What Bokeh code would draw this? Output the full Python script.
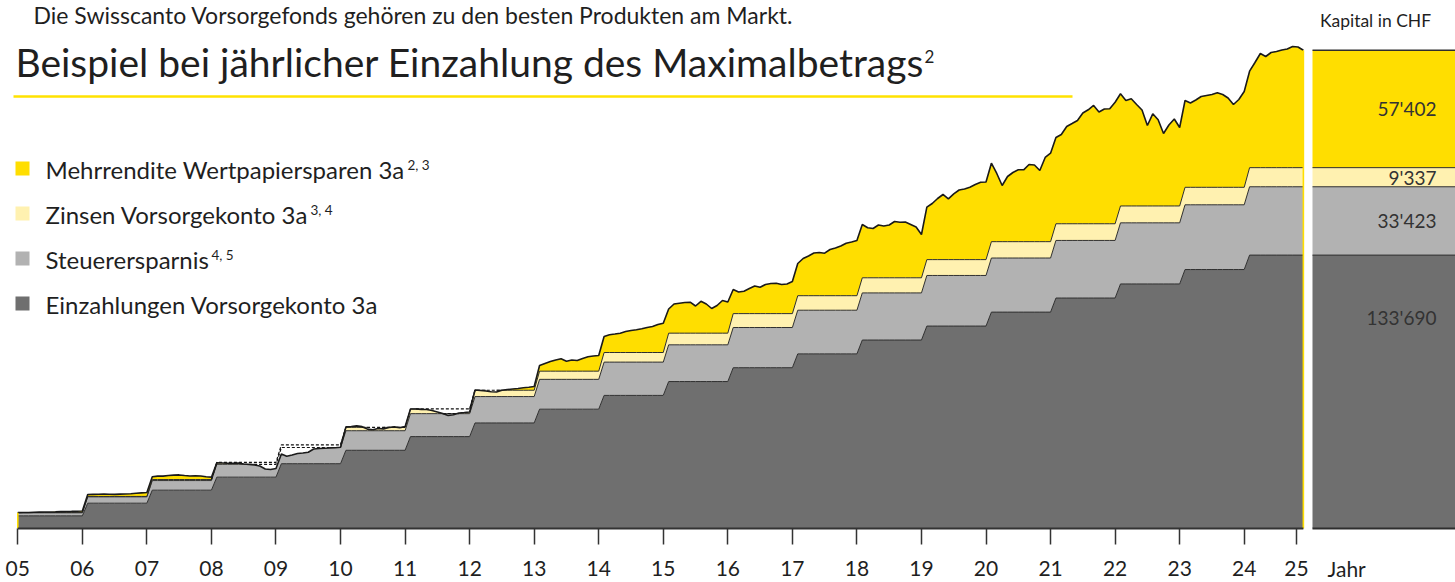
import numpy as np
from bokeh.plotting import figure
from bokeh.models import Range1d, FixedTicker, Label
from bokeh.embed import file_html
from bokeh.resources import INLINE

# ---------------- data ----------------
jahre = list(range(2005, 2025))
einzahlungen = [6192, 6192, 6365, 6365, 6566, 6566, 6682, 6682, 6739, 6739,
                6768, 6768, 6768, 6768, 6826, 6826, 6883, 6883, 7056, 7056]
steuerersparnis = [1548, 1548, 1591, 1591, 1642, 1642, 1671, 1670, 1685, 1685,
                   1692, 1692, 1692, 1692, 1707, 1706, 1721, 1720, 1764, 1764]
zinsen = [0, 200, 300, 400, 400, 350, 650, 800, 900, 700,
          1000, 1100, 300, 300, 350, 250, 150, 100, 300, 787]

# total value with securities savings, start value + month-end values 01.2005 - 11.2024
kapital_wertschriften = [
    7740,
    7800, 7850, 7950, 8000, 8050, 8100, 8150, 8250, 8300, 8350, 8450, 8550,
    16600, 16700, 16750, 16800, 16750, 16700, 16800, 16900, 17000, 17200, 17400, 17600,
    25300, 25600, 25600, 25900, 26100, 26200, 25900, 25700, 25800, 25700, 25300, 25100,
    32130, 32030, 31930, 31930, 32030, 31540, 31300, 31050, 30560, 29100, 28850, 29340,
    36430, 35350, 35940, 36680, 36920, 37310, 38880, 39120, 39270, 39360, 39460, 39710,
    49700, 49900, 50200, 49800, 48600, 48300, 48900, 48700, 49400, 49700, 49300, 49800,
    58430, 58430, 58190, 58190, 57700, 56970, 56240, 55260, 55600, 56480, 56720, 56970,
    67730, 67480, 67240, 66850, 66750, 67580, 67970, 68220, 68460, 68800, 69100, 69440,
    79710, 80690, 81660, 82400, 82980, 81810, 82400, 82150, 83130, 83960, 84350, 84600,
    93890, 94770, 95110, 95500, 96330, 96820, 97160, 97650, 98290, 98780, 99760, 100390,
    107340, 109780, 110170, 110510, 110660, 108800, 111100, 109780, 107580, 109050, 111490, 110760,
    116870, 115650, 116040, 117360, 118580, 118000, 119320, 119810, 119950, 119320, 119560, 120780,
    129590, 132030, 133250, 134720, 134960, 134620, 136430, 137160, 138140, 139510, 140100, 140830,
    148660, 147040, 146700, 148410, 147920, 148410, 150120, 149780, 149880, 148660, 147430, 143770,
    157120, 158930, 161370, 163330, 161220, 163670, 165530, 166020, 166900, 168220, 169340, 169440,
    178630, 173600, 167730, 172130, 174080, 175400, 175400, 178000, 177750, 175060, 181420, 183520,
    191200, 192670, 196580, 198040, 199510, 203180, 204740, 206850, 203670, 205140, 205230, 208460,
    212570, 209290, 210120, 207340, 204650, 197070, 202790, 199860, 193160, 197310, 200250, 196090,
    209290, 208070, 209540, 211250, 211740, 212230, 213060, 212230, 210520, 207340, 209780, 213690,
    223620, 227870, 232280, 230810, 232760, 233250, 233980, 234470, 235700, 235450, 233852,
]

kategorien = ["Einzahlungen Vorsorgekonto 3a", "Steuerersparnis", "Zinsen Vorsorgekonto 3a",
              "Mehrrendite Wertpapiersparen 3a"]
fussnoten = ["", "4, 5", "3, 4", "2, 3"]
endwerte = [133690, 33423, 9337, 57402]
endwerte_text = ["133'690", "33'423", "9'337", "57'402"]
tick_texte = ["05", "06", "07", "08", "09", "10", "11", "12", "13", "14",
              "15", "16", "17", "18", "19", "20", "21", "22", "23", "24", "25"]

titel = "Beispiel bei jährlicher Einzahlung des Maximalbetrags"
titel_note = "2"
obertext = "Die Swisscanto Vorsorgefonds gehören zu den besten Produkten am Markt."

# ---------------- styles ----------------
FONT = "Lato"
C_DARK = "#6f6f6f"
C_GRAY = "#b2b2b2"
C_LY = "#fff1b0"
C_Y = "#ffde00"
C_LINE = "#2e2e2e"
C_TEXT = "#1f1f1f"

# page-pixel helpers (layout only)
X0_PX, PX_MONTH, BASE_PX, CHF_PX = 17.3, 5.379, 528.0, 489.0
def XP(px):
    return (px - X0_PX) / PX_MONTH
def YP(py):
    return (BASE_PX - py) * CHF_PX

W, H = 1455, 582

# ---------------- derived series ----------------
S = np.array(kapital_wertschriften, dtype=float)
n = len(S)
idx = np.arange(n)
yr = np.where(idx == 0, 0, (idx - 1) // 12)
D = np.cumsum(einzahlungen)[yr].astype(float)
T = np.cumsum(steuerersparnis)[yr].astype(float)
I = np.cumsum(zinsen)[yr].astype(float)
DT = D + T
A = DT + I
x = idx.astype(float)

p = figure(width=W, height=H,
           x_range=Range1d(XP(0), XP(W)),
           y_range=Range1d(YP(H), YP(0)),
           output_backend="svg", toolbar_location=None, y_axis_location=None,
           min_border_left=0, min_border_right=0, min_border_top=0, min_border_bottom=0)
p.grid.visible = False
p.outline_line_color = None
p.background_fill_color = "white"
p.border_fill_color = "white"

# stacked areas
p.varea(x=x, y1=0, y2=D, fill_color=C_DARK)
p.varea(x=x, y1=D, y2=np.minimum(DT, S), fill_color=C_GRAY)
p.varea(x=x, y1=DT, y2=np.clip(S, DT, A), fill_color=C_LY)
p.varea(x=x, y1=A, y2=np.maximum(S, A), fill_color=C_Y)

# boundary lines
p.line(x, D, line_color=C_LINE, line_width=1)

def split_line(b):
    below = S < b - 150
    dil_b = below.copy()
    dil_b[1:] |= below[:-1]
    dil_b[:-1] |= below[1:]
    above = ~below
    dil_a = above.copy()
    dil_a[1:] |= above[:-1]
    dil_a[:-1] |= above[1:]
    p.line(x, np.where(dil_a, b, np.nan), line_color=C_LINE, line_width=1)
    p.line(x, np.where(dil_b, b, np.nan), line_color="#111111", line_width=1.2,
           line_dash="3 2")

split_line(DT)
split_line(A)
p.line(x, S, line_color="#1a1a1a", line_width=1.6)

# edge lines
p.segment(x0=[x[0], x[-1]], y0=[0, 0], x1=[x[0], x[-1]], y1=[S[0], S[-1]],
          line_color=C_Y, line_width=1.6)
p.segment(x0=[x[0]], y0=[0], x1=[x[-1]], y1=[0], line_color="#333333", line_width=2)

# right panel with final values
tops = np.cumsum(endwerte).astype(float)
bottoms = np.concatenate([[0.0], tops[:-1]])
p.quad(left=XP(1312), right=XP(1470), bottom=bottoms, top=tops,
       fill_color=[C_DARK, C_GRAY, C_LY, C_Y], line_color=None)
p.segment(x0=[XP(1312)] * 5, x1=[XP(1470)] * 5, y0=[0] + list(tops), y1=[0] + list(tops),
          line_color=C_LINE, line_width=[2, 1, 1, 1, 1.5])
for k, (b, t, txt) in enumerate(zip(bottoms, tops, endwerte_text)):
    if k == 0:
        ly = t - 62 * CHF_PX
    else:
        ly = (b + t) / 2
    p.add_layout(Label(x=XP(1436), y=ly, text=txt, text_align="right",
                       text_baseline="middle", text_font=FONT, text_font_size="19px",
                       text_color="#333333"))

def label(px, py_mid, txt, size, align="left", color=C_TEXT):
    p.add_layout(Label(x=XP(px), y=YP(py_mid), text=txt, text_align=align,
                       text_baseline="middle", text_font=FONT,
                       text_font_size=f"{size}px", text_color=color))

label(1375, 20, "Kapital in CHF", 17.5, align="center")

# intro text, title, underline
label(33, 14, obertext, 23)
label(15, 61.5, titel, 39)
label(924, 56, titel_note, 17)
p.segment(x0=[XP(13)], x1=[XP(1072)], y0=[YP(96)], y1=[YP(96)], line_color="#ffe200",
          line_width=2.5)

# legend
leg_cols = [C_Y, C_LY, C_GRAY, C_DARK]
leg_names = kategorien[::-1]
leg_notes = fussnoten[::-1]
note_x = [407, 310, 211, None]
for r in range(4):
    cy = 168 + 45 * r
    p.scatter(x=[XP(22)], y=[YP(cy)], marker="square", size=14, fill_color=leg_cols[r],
              line_color=None)
    label(45, cy + 0.5, leg_names[r], 24)
    if leg_notes[r]:
        label(note_x[r], cy - 3.5, leg_notes[r], 13.5)

# x axis drawn at the zero line
ticks = [12 * k for k in range(len(tick_texte) - 1)] + [XP(1296)]
ax = p.xaxis[0]
ax.fixed_location = 0
ax.ticker = FixedTicker(ticks=ticks)
ax.major_label_overrides = {t: s for t, s in zip(ticks, tick_texte)}
ax.axis_line_color = None
ax.major_tick_line_color = "#333333"
ax.major_tick_line_width = 1.5
ax.major_tick_out = 16
ax.major_tick_in = 0
ax.minor_tick_line_color = None
ax.major_label_standoff = 16
ax.major_label_text_font = FONT
ax.major_label_text_font_size = "21px"
ax.major_label_text_color = C_TEXT

label(1327, 568, "Jahr", 21)

open("out.html", "w").write(file_html(p, INLINE))
